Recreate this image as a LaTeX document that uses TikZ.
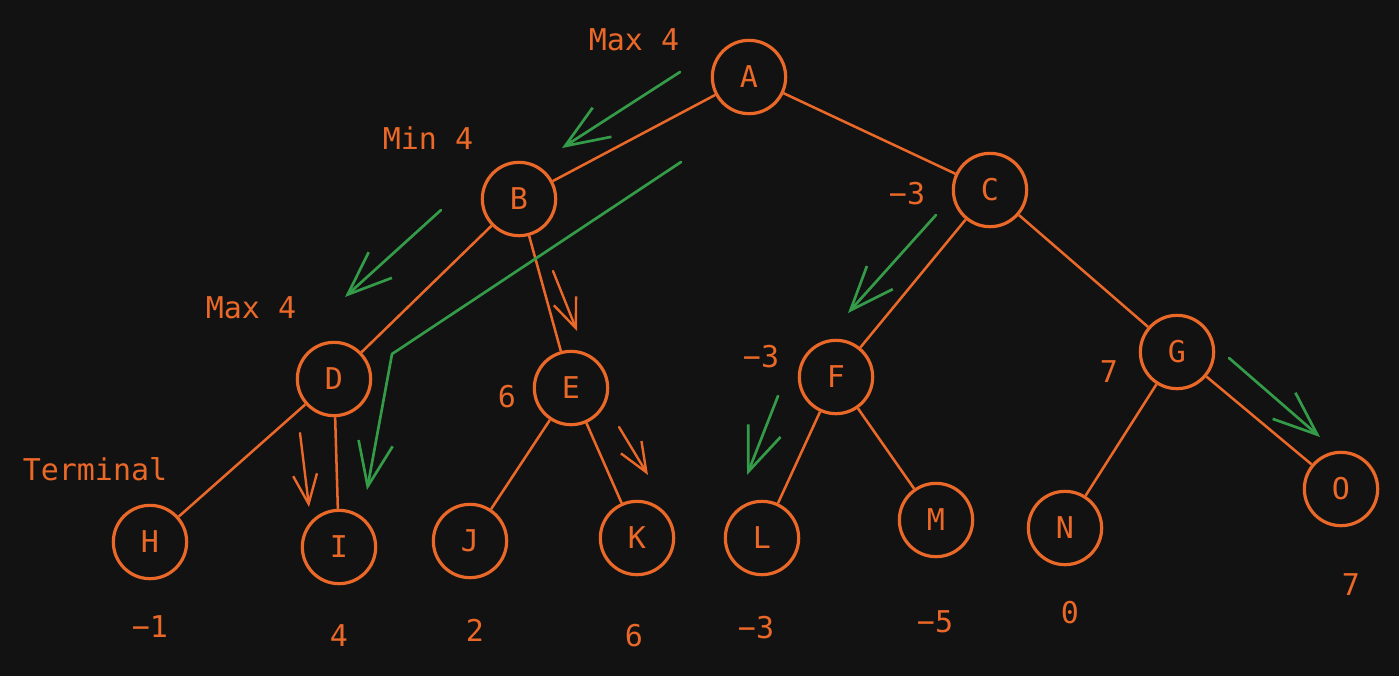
\documentclass[tikz,border=0pt]{standalone}
\usepackage{xcolor}
\usepackage{fontspec}
\usetikzlibrary{arrows.meta}
\newfontfamily\sketchfont{DejaVu Sans Mono}
\definecolor{inkbg}{RGB}{18,18,18}
\definecolor{inkorange}{RGB}{234,104,40}
\definecolor{inkgreen}{RGB}{52,156,72}

\tikzset{
  treenode/.style={circle, draw=inkorange, line width=2.4pt, minimum size=55pt, inner sep=0pt,
    text=inkorange, font=\sketchfont\fontsize{22.5}{27}\selectfont},
  edgeline/.style={draw=inkorange, line width=1.9pt},
  notelabel/.style={text=inkorange, inner sep=0.75pt, font=\sketchfont\fontsize{22.5}{27}\selectfont},
  greenpath/.style={draw=inkgreen, line width=2pt, line cap=round, line join=round},
  orangepath/.style={draw=inkorange, line width=1.8pt, line cap=round, line join=round},
  longhead/.style={-{Straight Barb[length=33pt,width=26pt]}},
  shorthead/.style={-{Straight Barb[length=22pt,width=18pt]}},
}

\begin{document}
\begin{tikzpicture}[x=0.75pt,y=0.75pt,yscale=-1,xscale=1]
%set diagram background, 1399 x 676
\fill [inkbg] (0,0) rectangle (1399,676);

% Circle Nodes
\node [treenode] (A) at (749,77) {A};
\node [treenode] (B) at (519,199) {B};
\node [treenode] (C) at (990,190) {C};
\node [treenode] (D) at (334,379) {D};
\node [treenode] (E) at (571,388) {E};
\node [treenode] (F) at (836,377) {F};
\node [treenode] (G) at (1177,352) {G};
\node [treenode] (H) at (150,542) {H};
\node [treenode] (I) at (339,547) {I};
\node [treenode] (J) at (470,541) {J};
\node [treenode] (K) at (637,538) {K};
\node [treenode] (L) at (762,538) {L};
\node [treenode] (M) at (936,520) {M};
\node [treenode] (N) at (1065,528) {N};
\node [treenode] (O) at (1341,489) {O};

% Tree Edges
\draw [edgeline] (A) -- (B);
\draw [edgeline] (A) -- (C);
\draw [edgeline] (B) -- (D);
\draw [edgeline] (B) -- (E);
\draw [edgeline] (C) -- (F);
\draw [edgeline] (C) -- (G);
\draw [edgeline] (D) -- (H);
\draw [edgeline] (D) -- (I);
\draw [edgeline] (E) -- (J);
\draw [edgeline] (E) -- (K);
\draw [edgeline] (F) -- (L);
\draw [edgeline] (F) -- (M);
\draw [edgeline] (G) -- (N);
\draw [edgeline] (G) -- (O);

% Arrow End Points
\coordinate (g1s) at (680,72);   \coordinate (g1e) at (562,148);
\coordinate (g2s) at (441,210);  \coordinate (g2e) at (345,297);
\coordinate (g3s) at (681,162);  \coordinate (g3m) at (392,354);  \coordinate (g3e) at (367,490);
\coordinate (g4s) at (936,215);  \coordinate (g4e) at (848,313);
\coordinate (g5s) at (1229,358); \coordinate (g5e) at (1320,437);
\coordinate (g6s) at (778,396);  \coordinate (g6e) at (747,475);
\coordinate (o1s) at (553,271);  \coordinate (o1e) at (577,331);
\coordinate (o2s) at (300,433);  \coordinate (o2e) at (309,507);
\coordinate (o3s) at (619,427);  \coordinate (o3e) at (648,475);

% Straight Arrows
\draw [greenpath, longhead] (g1s) -- (g1e);
\draw [greenpath, longhead] (g2s) -- (g2e);
\draw [greenpath, longhead] (g3s) -- (g3m) -- (g3e);
\draw [greenpath, longhead] (g4s) -- (g4e);
\draw [greenpath, longhead] (g5s) -- (g5e);
\draw [greenpath, longhead] (g6s) -- (g6e);
\draw [orangepath, shorthead] (o1s) -- (o1e);
\draw [orangepath, shorthead] (o2s) -- (o2e);
\draw [orangepath, shorthead] (o3s) -- (o3e);

% Text Nodes
\node [notelabel] (maxA) at (634,40) {Max 4};
\node [notelabel] (minB) at (428,138) {Min 4};
\node [notelabel] (maxD) at (251,308) {Max 4};
\node [notelabel] (term) at (95,469) {Terminal};
\node [notelabel] (valC) at (907,194) {−3};
\node [notelabel] (valF) at (761,357) {−3};
\node [notelabel] (valE) at (507,397) {6};
\node [notelabel] (valG) at (1109,372) {7};

% Leaf Values
\node [notelabel] (valH) at (150,627) {−1};
\node [notelabel] (valI) at (339,636) {4};
\node [notelabel] (valJ) at (475,630) {2};
\node [notelabel] (valK) at (634,636) {6};
\node [notelabel] (valL) at (756,628) {−3};
\node [notelabel] (valM) at (935,622) {−5};
\node [notelabel] (valN) at (1070,613) {0};
\node [notelabel] (valO) at (1351,585) {7};

\end{tikzpicture}
\end{document}
